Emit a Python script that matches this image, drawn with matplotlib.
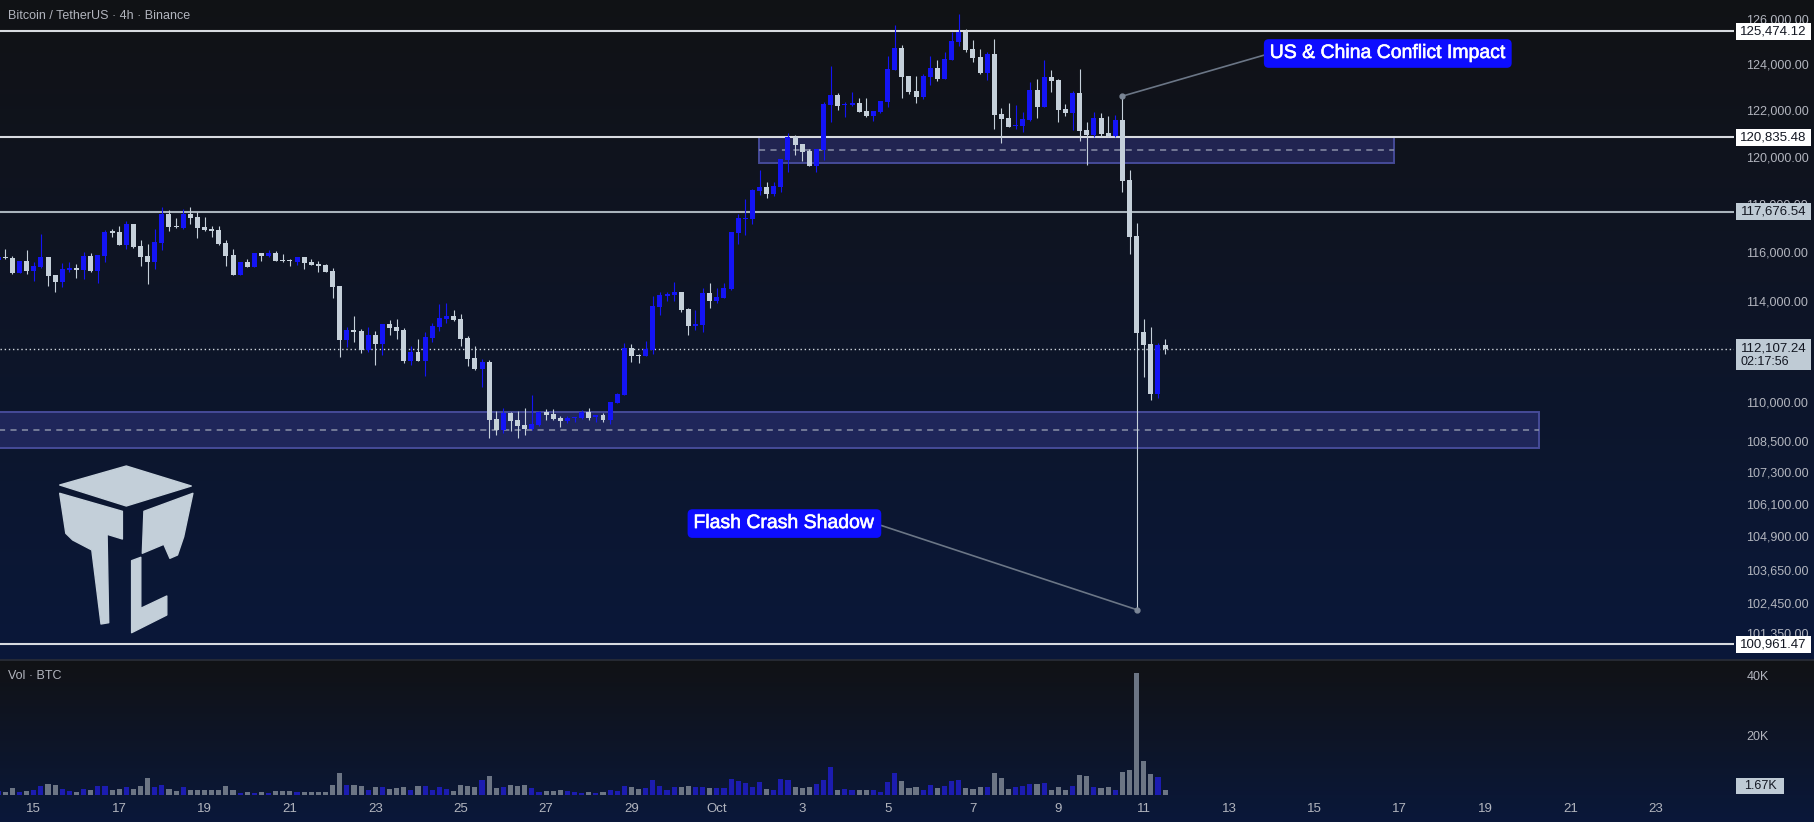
import numpy as np
import matplotlib.pyplot as plt
import matplotlib.patheffects as pe
from matplotlib.patches import Rectangle, Polygon
from matplotlib.ticker import FixedLocator, NullLocator, FuncFormatter, NullFormatter

plt.rcParams['font.family'] = ['Liberation Sans', 'DejaVu Sans']

# 4h candles, BTC/USDT Binance. bar 0 = Sep 15 00:00, first bar shown = Sep 14 04:00
first_bar = -5
opens = [
    115670, 115820, 115770, 115150, 115650,
    115240, 115400, 115810, 115070, 114790, 115280,
    115360, 115280, 115850, 115240, 115850, 116870,
    116840, 116300, 117180, 116260, 115850, 115600,
    116390, 117590, 117090, 117010, 117590, 117470,
    117050, 116970, 116930, 116390, 115890, 115070,
    115600, 115400, 115970, 115850, 115970, 115690,
    115700, 115600, 115810, 115600, 115520, 115480,
    115240, 114630, 112450, 112850, 112810, 112050,
    112650, 112290, 113090, 112970, 112850, 111620,
    111980, 111620, 112530, 112970, 113290, 113410,
    113290, 112530, 111740, 111300, 111580, 109350,
    108920, 109580, 109310, 109110, 108960, 109110,
    109620, 109540, 109380, 109270, 109380, 109380,
    109620, 109420, 109500, 109310, 109970, 110280,
    112130, 111870, 111820, 112050, 113780, 114220,
    114260, 114380, 113700, 113010, 113050, 114340,
    114020, 114140, 114500, 116800, 117380, 117380,
    118550, 118720, 118430, 118720, 119860, 120840,
    120550, 120250, 119610, 120290, 122230, 122660,
    122230, 122230, 122310, 121970, 121750, 121920,
    122360, 123750, 124720, 123490, 122830, 122570,
    123440, 123840, 123360, 124190, 124990, 125430,
    124680, 124320, 123620, 124460, 121840, 121660,
    121320, 121320, 121580, 122880, 122140, 123440,
    123310, 122050, 121880, 122750, 121150, 120930,
    121660, 121020, 120890, 121580, 119020, 116680,
    112770, 112290, 110320, 112250,
]
highs = [
    115850, 116140, 115850, 115650, 116100,
    115600, 116760, 115820, 115080, 115550, 115600,
    115520, 116020, 115980, 115900, 116930, 116970,
    117090, 117300, 117190, 116510, 116350, 116970,
    117880, 117760, 117420, 117800, 117880, 117670,
    117470, 117090, 117090, 116510, 116140, 115620,
    115730, 115990, 115990, 116100, 116060, 115930,
    115730, 115820, 115820, 115730, 115650, 115520,
    115360, 114640, 112970, 113410, 112890, 112970,
    112810, 113100, 113250, 113290, 112930, 112210,
    112490, 112770, 113130, 113900, 113940, 113660,
    113490, 112610, 112210, 111700, 111660, 109660,
    109770, 109620, 109660, 109770, 110280, 109660,
    109730, 109730, 109460, 109460, 109430, 109690,
    109770, 109510, 109580, 110020, 110360, 112330,
    112290, 111900, 112410, 114220, 114380, 114380,
    114790, 114390, 113740, 113660, 114550, 114750,
    114550, 114750, 116860, 117590, 118220, 118640,
    119440, 118930, 118930, 119910, 121020, 120930,
    120560, 120330, 120340, 122360, 123930, 122750,
    122360, 122790, 122530, 122530, 121970, 122410,
    124370, 125740, 124850, 123500, 123490, 123580,
    124370, 124190, 124540, 125430, 126230, 125560,
    125070, 124680, 124540, 125120, 122100, 122310,
    122230, 121920, 123230, 123360, 124190, 123750,
    123360, 122270, 122830, 123800, 121490, 121920,
    121880, 121750, 121790, 122610, 119440, 117220,
    113290, 112970, 112330, 112490,
]
lows = [
    115600, 115730, 115110, 115140, 115110,
    114830, 115380, 114630, 114380, 114590, 115200,
    114950, 114910, 115200, 114750, 115600, 116630,
    116300, 116140, 116200, 115440, 114710, 115320,
    116100, 116880, 117010, 116970, 117170, 116590,
    116880, 116630, 116300, 115440, 115070, 115060,
    115390, 115390, 115650, 115810, 115640, 115600,
    115440, 115480, 115320, 115470, 115200, 115190,
    114140, 111780, 112170, 112370, 111940, 111980,
    111460, 111860, 112650, 112490, 111540, 111460,
    111600, 111020, 112370, 112810, 113130, 113210,
    112210, 111420, 111260, 110590, 108610, 108730,
    108800, 108880, 108610, 108730, 108920, 109070,
    109310, 109310, 109040, 109190, 109230, 109350,
    109310, 109230, 109230, 109150, 109960, 110270,
    111580, 111540, 111800, 111900, 113450, 114020,
    114020, 113580, 112650, 112850, 112770, 113740,
    113940, 114130, 114460, 116350, 116720, 117180,
    118390, 118260, 118340, 118510, 119360, 120080,
    119820, 119600, 119360, 119860, 121490, 122010,
    121710, 122200, 121910, 121710, 121530, 121880,
    122140, 123740, 122530, 122700, 122310, 122490,
    123090, 123270, 123340, 124180, 124810, 124540,
    124100, 123580, 123310, 121190, 120590, 121260,
    121190, 121060, 121530, 121660, 122120, 122790,
    121490, 121750, 121150, 120670, 119650, 120850,
    120850, 120850, 120850, 118510, 115930, 102200,
    110990, 110080, 110160, 111900,
]
closes = [
    115800, 115770, 115150, 115650, 115240,
    115440, 115810, 115030, 114790, 115320, 115360,
    115280, 115850, 115240, 115890, 116840, 116810,
    116300, 117180, 116220, 115810, 115600, 116430,
    117590, 117050, 117040, 117590, 117420, 117010,
    116930, 116880, 116350, 115850, 115070, 115600,
    115400, 115970, 115850, 115970, 115650, 115630,
    115660, 115810, 115560, 115480, 115440, 115200,
    114590, 112450, 112850, 112770, 112050, 112650,
    112290, 113090, 112930, 112810, 111620, 111980,
    111620, 112570, 113010, 113330, 113410, 113250,
    112490, 111700, 111300, 111580, 109310, 108920,
    109580, 109270, 109070, 108960, 109150, 109620,
    109500, 109350, 109270, 109380, 109420, 109620,
    109380, 109500, 109310, 110010, 110320, 112130,
    111820, 111820, 112090, 113820, 114260, 114300,
    114380, 113660, 113010, 113090, 114340, 114020,
    114180, 114550, 116840, 117420, 117420, 118600,
    118720, 118430, 118760, 119910, 120840, 120500,
    120200, 119610, 120330, 122270, 122660, 122180,
    122270, 122310, 121920, 121750, 121970, 122400,
    123800, 124720, 123440, 122790, 122570, 123490,
    123840, 123360, 124230, 125030, 125430, 124630,
    124280, 123620, 124460, 121790, 121620, 121280,
    121360, 121620, 122880, 122140, 123440, 123270,
    122010, 121880, 122750, 121100, 120930, 121660,
    120970, 120890, 121580, 118970, 116640, 112730,
    112250, 110320, 112250, 112107.24,
]
volumes_k = [
    1.5, 1.0, 2.3, 1.1, 1.3,
    1.7, 3.0, 3.7, 3.4, 2.0, 1.3,
    1.0, 2.0, 1.7, 3.0, 3.0, 1.8,
    2.1, 2.8, 2.0, 3.0, 5.7, 2.8,
    3.3, 2.0, 1.3, 2.7, 1.8, 1.8,
    1.8, 1.7, 1.8, 3.0, 1.8, 0.8,
    1.0, 0.8, 1.0, 0.8, 1.3, 1.2,
    1.3, 1.0, 1.0, 1.0, 1.0, 1.0,
    3.3, 7.3, 3.3, 3.2, 3.0, 1.7,
    2.7, 2.7, 2.1, 2.3, 2.7, 1.7,
    3.0, 3.0, 1.7, 2.7, 2.0, 1.3,
    3.3, 3.0, 2.7, 5.0, 6.3, 2.3,
    2.7, 3.3, 3.0, 3.3, 2.3, 1.0,
    1.3, 1.3, 1.7, 1.3, 1.0, 0.8,
    1.0, 0.8, 1.0, 1.7, 1.3, 3.0,
    2.7, 2.0, 2.3, 5.0, 3.0, 1.7,
    2.7, 2.7, 3.0, 2.7, 2.7, 2.3,
    2.3, 2.3, 5.3, 4.7, 4.0, 2.7,
    4.3, 2.0, 1.7, 5.3, 5.0, 2.7,
    2.4, 2.7, 3.6, 5.0, 9.3, 1.7,
    2.0, 1.7, 1.7, 1.7, 1.7, 1.0,
    4.3, 7.3, 4.7, 2.3, 2.7, 1.7,
    3.3, 2.3, 3.0, 4.7, 5.0, 2.3,
    2.0, 2.7, 2.7, 7.3, 5.7, 2.0,
    2.7, 3.0, 3.7, 3.7, 4.0, 1.7,
    2.7, 1.7, 3.0, 6.7, 6.3, 2.7,
    2.3, 2.7, 1.7, 7.7, 8.3, 40.7,
    11.3, 7.0, 6.0, 1.67,
]

levels = [125474.12, 120835.48, 117676.54, 100961.47]
last_price = 112107.24
countdown = '02:17:56'
last_vol_label = '1.67K'

price_ticks = [126000, 124000, 122000, 120000, 118000, 116000, 114000,
               110000, 108500, 107300, 106100, 104900, 103650, 102450, 101350]
vol_ticks = [20, 40]
date_ticks = list(range(0, 240, 12))
date_labels = ['15', '17', '19', '21', '23', '25', '27', '29', 'Oct', '3',
               '5', '7', '9', '11', '13', '15', '17', '19', '21', '23']

# zones: bar from, bar to, low, high
zone_top = (101.9, 191.2, 119736, 120835.48)
zone_bottom = (-10, 211.6, 108226, 109618)

# text, point bar, point price, label bar, label price, line start on box
notes = [
    ('US & China Conflict Impact', 153, 122610, 190.3, 124477, (0, 0.5)),
    ('Flash Crash Shadow', 155, 102200, 105.5, 105367, (1, 0.5)),
]

UP = '#1414f5'
DOWN = '#c5d0da'
VUP = '#1c1cb0'
VDOWN = '#6c7584'
TXT = '#b2b5be'

W, H = 1815, 822
fig = plt.figure(figsize=(W / 100, H / 100), dpi=100)

# background, in pixels
bg = fig.add_axes([0, 0, 1, 1])
bg.set_xlim(0, W)
bg.set_ylim(H, 0)
bg.axis('off')
top_c = np.array([17, 18, 21]) / 255
bot_c = np.array([10, 24, 58]) / 255
grad = np.zeros((H, 1, 3))
grad[:660] = np.linspace(top_c, bot_c, 660)[:, None, :]
grad[660:] = np.linspace(top_c, bot_c, H - 660)[:, None, :]
bg.imshow(grad, extent=(0, W, H, 0), aspect='auto', interpolation='bilinear')
bg.plot([0, W], [659.5, 659.5], color='#2a2e39', lw=1.2)

# price pane
ax = fig.add_axes([0, 1 - 658 / H, 1734 / W, 658 / H])
ax.set_facecolor('none')
ax.set_yscale('log')
ax.set_ylim(100462, 126861)
ax.set_xlim(-4.75, 238.96)
for s in ax.spines.values():
    s.set_visible(False)
ax.yaxis.set_major_locator(FixedLocator(price_ticks))
ax.yaxis.set_minor_locator(NullLocator())
ax.yaxis.set_minor_formatter(NullFormatter())
ax.yaxis.set_major_formatter(FuncFormatter(lambda v, p: f'{v:,.2f}'))
ax.yaxis.tick_right()
ax.tick_params(axis='y', length=0, pad=9, labelsize=9, labelcolor=TXT)
ax.set_xticks([])

o = np.array(opens, float)
h = np.array(highs, float)
l = np.array(lows, float)
c = np.array(closes, float)
x = np.arange(len(o)) + first_bar
up = c >= o
cols = np.where(up, UP, DOWN)

for z in (zone_top, zone_bottom):
    ax.add_patch(Rectangle((z[0], z[2]), z[1] - z[0], z[3] - z[2],
                           fc='#3d40a0', alpha=0.4, ec='none', zorder=1))
    ax.add_patch(Rectangle((z[0], z[2]), z[1] - z[0], z[3] - z[2],
                           fc='none', ec='#464b98', lw=1.4, zorder=1.5))
    ax.plot([z[0], z[1]], [np.sqrt(z[2] * z[3])] * 2, color='#8a90a8',
            lw=1.1, ls=(0, (4, 3.5)), zorder=1.5)

for lv in levels:
    col = '#a9b3bc' if lv == levels[2] else '#d8dbe0'
    ax.axhline(lv, color=col, lw=1.5, zorder=2)
ax.axhline(last_price, color='#d0d6dc', lw=1, ls=(0, (1, 2)), zorder=2)

ax.vlines(x, l, h, colors=cols, lw=0.8, zorder=3)
ax.bar(x, c - o, bottom=o, width=0.7, color=cols, linewidth=0, zorder=4)

for text, bx, by, tx, ty, rp in notes:
    ax.annotate(text, xy=(bx, by), xytext=(tx, ty), ha='center', va='center',
                fontsize=14, color='white', zorder=6,
                path_effects=[pe.withStroke(linewidth=0.4, foreground='white')],
                bbox=dict(boxstyle='round,pad=0.3,rounding_size=0.25', fc='#0d0dff', ec='none'),
                arrowprops=dict(arrowstyle='-', color='#6b7686', lw=1.2,
                                shrinkA=0, shrinkB=0, relpos=rp))
    ax.plot(bx, by, 'o', ms=3.5, color='#7b8696', zorder=6)

# volume pane
vax = fig.add_axes([0, 1 - 795 / H, 1734 / W, (795 - 661) / H])
vax.set_facecolor('none')
vax.set_xlim(ax.get_xlim())
vax.set_ylim(0, (795 - 661) / 3)
for s in vax.spines.values():
    s.set_visible(False)
vax.bar(x, volumes_k, width=0.72, color=np.where(up, VUP, VDOWN), linewidth=0)
vax.yaxis.tick_right()
vax.set_yticks(vol_ticks)
vax.set_yticklabels([f'{v}K' for v in vol_ticks])
vax.set_xticks(date_ticks)
vax.set_xticklabels(date_labels)
vax.tick_params(axis='y', length=0, pad=9, labelsize=9, labelcolor=TXT)
vax.tick_params(axis='x', length=0, pad=6, labelsize=9.5, labelcolor=TXT)


def to_px(axis, xv, yv):
    dx, dy = axis.transData.transform((xv, yv))
    return dx, H - dy


# overlay for the price scale labels, drawn above the tick labels
top = fig.add_axes([0, 0, 1, 1])
top.set_xlim(0, W)
top.set_ylim(H, 0)
top.axis('off')
top.patch.set_visible(False)

for lv in levels:
    _, py = to_px(ax, 0, lv)
    face = '#bfcbd5' if lv == levels[2] else '#ffffff'
    top.add_patch(Rectangle((1736, py - 8.5), 75, 17, fc=face, ec='none'))
    top.text(1773.5, py, f'{lv:,.2f}', ha='center', va='center', fontsize=9.5,
             color='#131722')
_, py = to_px(ax, 0, last_price)
top.add_patch(Rectangle((1736, py - 9.5), 75, 31, fc='#bfcbd5', ec='none'))
top.text(1773.5, py, f'{last_price:,.2f}', ha='center', va='center', fontsize=9.5,
         color='#131722')
top.text(1741, py + 13, countdown, ha='left', va='center', fontsize=9,
         color='#131722')
_, py = to_px(vax, 0, volumes_k[-1])
top.add_patch(Rectangle((1736, py - 12), 48, 16, fc='#bfcbd5', ec='none'))
top.text(1760, py - 4, last_vol_label, ha='center', va='center', fontsize=9,
         color='#131722')

top.text(8, 16, 'Bitcoin / TetherUS · 4h · Binance', ha='left', va='center',
         fontsize=9, color=TXT)
top.text(8, 676, 'Vol · BTC', ha='left', va='center', fontsize=9, color=TXT)

# logo
logo = [
    [(126.3, 466.0), (191.3, 486.0), (126.3, 506.0), (59.7, 485.0)],
    [(59.7, 493.3), (122.4, 511.3), (122.4, 539.0), (107.1, 534.3), (108.7, 622.7),
     (101.0, 624.0), (91.8, 550.0), (72.7, 540.0), (65.8, 533.3)],
    [(192.9, 493.3), (143.9, 511.3), (142.3, 553.3), (163.8, 544.3), (169.9, 558.3),
     (177.5, 555.0), (183.7, 536.7)],
    [(131.6, 560.7), (140.8, 557.3), (140.8, 608.3), (166.8, 596.0), (166.8, 615.0),
     (131.6, 632.7)],
]
for pts in logo:
    bg.add_patch(Polygon(pts, closed=True, fc='#c3cfd9', ec='#c3cfd9', lw=1, joinstyle='round'))

fig.savefig('out.png', dpi=100)
